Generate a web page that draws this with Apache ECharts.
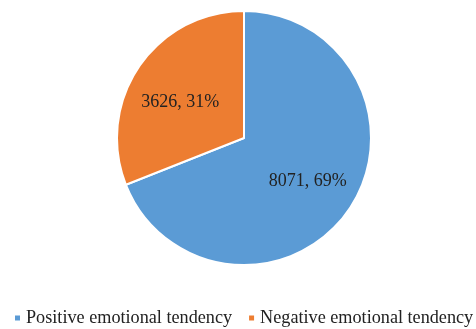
<!DOCTYPE html>
<html>
<head>
<meta charset="utf-8">
<script src="https://cdn.jsdelivr.net/npm/echarts@6/dist/echarts.min.js"></script>
<style>
  html, body { margin: 0; padding: 0; background: #fff; }
  #chart { width: 476px; height: 329px; }
</style>
</head>
<body>
<div id="chart"></div>
<script>
var names = ['Positive emotional tendency', 'Negative emotional tendency'];
var values = [8071, 3626];
var percents = [69, 31];
var colors = ['#5B9BD5', '#ED7D31'];

var chartDom = document.getElementById('chart');
var myChart = echarts.init(chartDom);

const pieData = names.map((n, i) => {
  return { name: n, value: values[i], itemStyle: { color: colors[i] } };
});
const labelText = (p) => `${values[p.dataIndex]}, ${percents[p.dataIndex]}%`;
// small nudge per label, the orange one sits a bit lower in the original
const labelOffsets = [[0, 0], [0, 8]];

var option = {
  animation: false,
  textStyle: { fontFamily: 'Liberation Serif' },
  legend: {
    data: names,
    bottom: 2,
    left: 13,
    width: 476,
    padding: 0,
    icon: 'rect',
    itemWidth: 7,
    itemHeight: 7,
    itemGap: 15,
    textStyle: { fontFamily: 'Liberation Serif', fontSize: 18.2, color: '#222' }
  },
  series: [
    {
      type: 'pie',
      center: [244, 138],
      radius: [0, 127],
      startAngle: 90,
      clockwise: true,
      label: { show: false },
      labelLine: { show: false },
      itemStyle: { borderColor: '#fff', borderWidth: 2 },
      emphasis: { disabled: true },
      data: pieData
    },
    {
      // transparent ring only to place the labels further out than mid-radius
      type: 'pie',
      center: [244, 138],
      radius: [21, 127],
      startAngle: 90,
      clockwise: true,
      silent: true,
      label: {
        show: true,
        position: 'inside',
        formatter: labelText,
        fontFamily: 'Liberation Serif',
        fontSize: 18,
        color: '#222'
      },
      labelLine: { show: false },
      itemStyle: { color: 'transparent', borderWidth: 0 },
      emphasis: { disabled: true },
      data: names.map((n, i) => ({ name: n, value: values[i], label: { offset: labelOffsets[i] } }))
    }
  ]
};
myChart.setOption(option);
</script>
</body>
</html>
